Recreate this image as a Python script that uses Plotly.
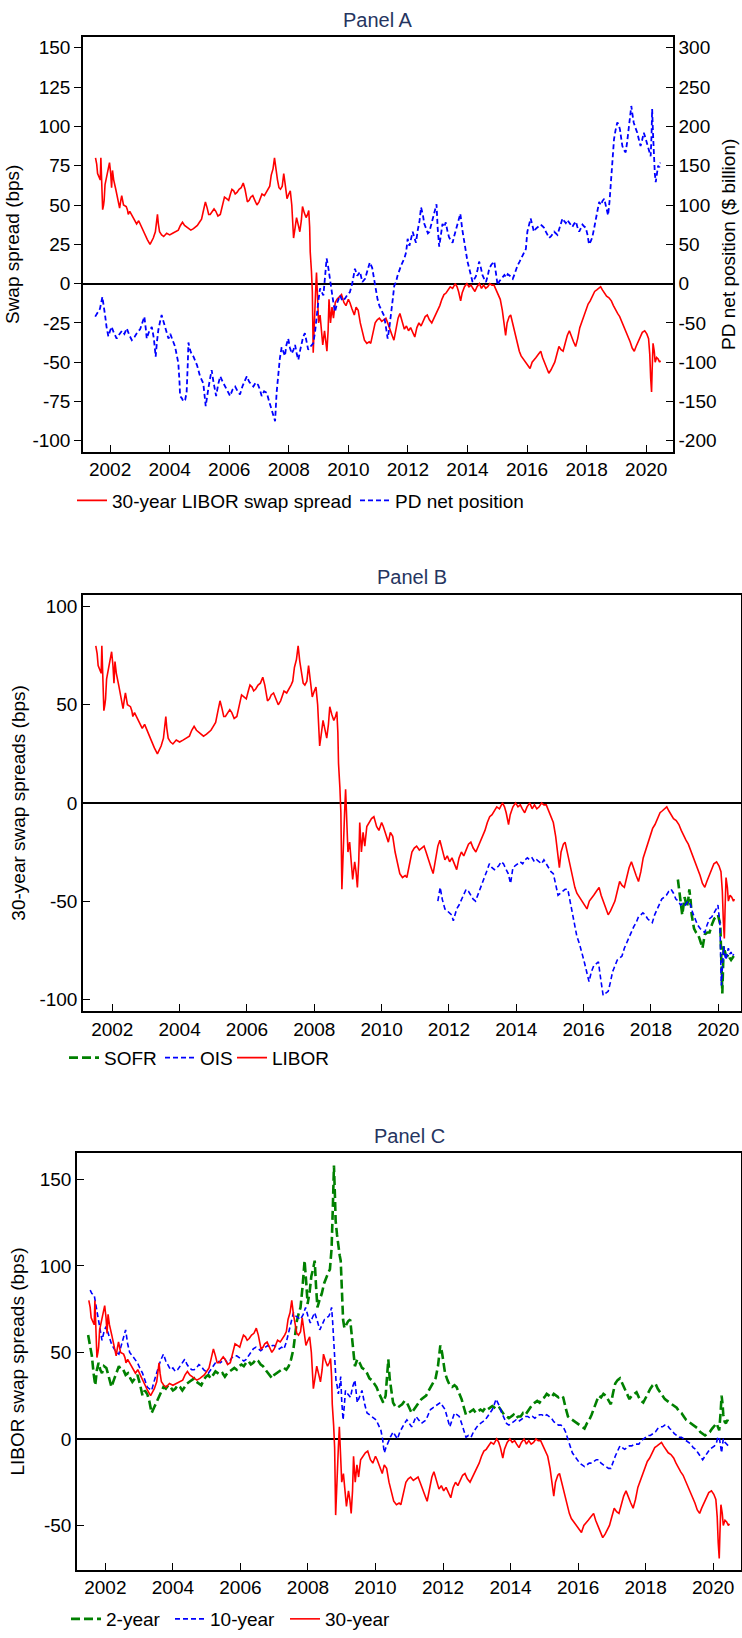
import plotly.graph_objects as go

# ---------------- data ----------------
# 30-year LIBOR swap spread (bps)
libor30_t = [2001.51,2001.55,2001.58,2001.62,2001.67,2001.69,2001.72,2001.75,2001.78,2001.8,2001.83,2001.88,2001.93,2001.98,
 2002.02,2002.05,2002.08,2002.12,2002.19,2002.25,2002.29,2002.32,2002.36,2002.39,2002.45,2002.54,2002.58,2002.61,2002.66,2002.75,
 2002.82,2002.89,2002.96,2003.03,2003.1,2003.17,2003.25,2003.34,2003.4,2003.45,2003.52,2003.59,2003.62,2003.66,2003.73,2003.8,
 2003.9,2004.0,2004.1,2004.2,2004.29,2004.36,2004.43,2004.5,2004.57,2004.64,2004.71,2004.8,2004.87,2004.93,2005.0,2005.07,
 2005.14,2005.2,2005.26,2005.31,2005.36,2005.42,2005.49,2005.55,2005.62,2005.7,2005.77,2005.84,2005.91,2005.98,2006.04,2006.09,
 2006.15,2006.2,2006.26,2006.33,2006.4,2006.47,2006.53,2006.57,2006.61,2006.67,2006.72,2006.79,2006.86,2006.93,2007.0,2007.05,
 2007.1,2007.18,2007.25,2007.31,2007.36,2007.41,2007.47,2007.52,2007.57,2007.62,2007.67,2007.72,2007.78,2007.83,2007.88,2007.94,
 2008.0,2008.05,2008.1,2008.13,2008.16,2008.2,2008.26,2008.31,2008.37,2008.42,2008.46,2008.52,2008.58,2008.63,2008.67,2008.7,
 2008.72,2008.76,2008.79,2008.82,2008.86,2008.9,2008.93,2008.97,2009.0,2009.05,2009.1,2009.14,2009.2,2009.24,2009.28,2009.32,
 2009.35,2009.4,2009.45,2009.5,2009.56,2009.62,2009.7,2009.77,2009.85,2009.92,2010.0,2010.05,2010.12,2010.2,2010.26,2010.33,
 2010.4,2010.47,2010.54,2010.62,2010.7,2010.75,2010.82,2010.9,2010.97,2011.04,2011.12,2011.2,2011.26,2011.32,2011.4,2011.47,
 2011.53,2011.6,2011.67,2011.73,2011.8,2011.88,2011.95,2012.02,2012.09,2012.16,2012.23,2012.3,2012.37,2012.44,2012.51,2012.58,
 2012.65,2012.72,2012.8,2012.87,2012.94,2013.0,2013.07,2013.14,2013.21,2013.28,2013.35,2013.42,2013.5,2013.55,2013.59,2013.65,
 2013.7,2013.77,2013.82,2013.9,2013.98,2014.05,2014.12,2014.18,2014.25,2014.32,2014.4,2014.47,2014.54,2014.61,2014.68,2014.75,
 2014.82,2014.89,2014.96,2015.03,2015.1,2015.17,2015.24,2015.28,2015.33,2015.4,2015.45,2015.5,2015.55,2015.6,2015.67,2015.74,
 2015.8,2015.88,2015.95,2016.02,2016.1,2016.17,2016.24,2016.3,2016.38,2016.46,2016.52,2016.58,2016.65,2016.73,2016.8,2016.87,
 2016.93,2017.0,2017.07,2017.14,2017.21,2017.28,2017.35,2017.42,2017.49,2017.56,2017.63,2017.7,2017.77,2017.84,2017.91,2017.98,
 2018.05,2018.12,2018.2,2018.27,2018.34,2018.41,2018.47,2018.53,2018.6,2018.67,2018.75,2018.83,2018.9,2018.97,2019.04,2019.11,
 2019.18,2019.25,2019.32,2019.39,2019.46,2019.53,2019.6,2019.66,2019.73,2019.8,2019.87,2019.95,2020.02,2020.08,2020.12,2020.15,
 2020.18,2020.2,2020.23,2020.27,2020.3,2020.35,2020.4,2020.45,2020.48]
libor30_v = [80,76,70,68,66,80,62,47,50,53,63,68,72,77,
 70,61,72,66,60,55,51,48,53,56,50,49,47,44,46,43,
 41,38,40,37,34,31,28,25,27,29,33,44,38,33,31,30,
 32,31,32,33,34,37,39,37,36,35,34,35,36,37,39,41,
 47,52,48,44,44,46,47.5,46,43,44,50,55,54,53,57,60,
 59,57,58,60,61,64,60,55,52,53,55,56,53,50,52,55,
 57,56,58,60,62,69,73,80,72,66,61,60,62,70,63,54,
 57,59,50,41,29,34,42,38,33,40,49,45,42,44,46.5,36,
 20,8,-5,-44,-20,-5,7,-10,-25,-20,-32,-39,-30,-35,-43,-30,
 -10,-25,-15,-22,-12,-10,-8,-7,-12,-14,-10,-12,-16,-20,-15,-17,
 -25,-30,-36,-38,-37,-38,-32,-25,-23,-22,-24,-23,-22,-25,-30,-33,
 -36,-28,-22,-19,-24,-29,-27,-30,-28,-31,-34,-28,-25,-27,-24,-21,
 -20,-23,-25,-22,-20,-17,-14,-10,-7,-6,-4,-2,-3,-1,0,-2,
 -5,-11,-6,-2,0,-2,-1,-3,-5,-2,0,-3,-1,-3,-2,0,
 -1,-1,-4,-6,-10,-17,-27,-33,-25,-21,-20,-24,-28,-33,-38,-43,
 -46,-48,-50,-52,-54,-50,-48,-47,-45,-43,-47,-50,-53,-57,-55,-52,
 -50,-45,-40,-42,-43,-38,-33,-30,-34,-37,-40,-35,-28,-24,-20,-16,
 -13,-11,-8,-5,-4,-3,-2,-4,-6,-8,-9,-11,-14,-17,-19,-21,
 -24,-27,-30,-34,-37,-41,-43,-40,-37,-33,-31,-30,-32,-35,-45,-60,
 -69,-55,-38,-43,-50,-47,-48,-50,-49]

# Primary dealers' net position ($ billion)
pd_t = [2001.5,2001.58,2001.66,2001.74,2001.78,2001.83,2001.88,2001.94,2002.0,2002.05,2002.12,2002.22,2002.3,2002.4,2002.48,
 2002.56,2002.65,2002.73,2002.82,2002.9,2003.01,2003.08,2003.15,2003.2,2003.23,2003.3,2003.4,2003.47,2003.53,2003.57,2003.62,
 2003.68,2003.73,2003.79,2003.85,2003.9,2003.96,2004.02,2004.07,2004.12,2004.18,2004.24,2004.29,2004.33,2004.35,2004.41,2004.46,
 2004.52,2004.57,2004.61,2004.63,2004.68,2004.74,2004.8,2004.85,2004.92,2005.02,2005.08,2005.13,2005.21,2005.26,2005.3,2005.36,
 2005.41,2005.47,2005.56,2005.63,2005.7,2005.78,2005.86,2005.94,2006.03,2006.11,2006.2,2006.28,2006.36,2006.45,2006.52,2006.59,
 2006.67,2006.74,2006.81,2006.89,2006.97,2007.03,2007.09,2007.17,2007.26,2007.34,2007.43,2007.49,2007.54,2007.59,2007.65,2007.7,
 2007.76,2007.82,2007.87,2007.92,2007.98,2008.04,2008.1,2008.16,2008.21,2008.27,2008.32,2008.38,2008.43,2008.48,2008.54,2008.6,
 2008.65,2008.73,2008.82,2008.88,2008.93,2009.0,2009.05,2009.1,2009.16,2009.22,2009.27,2009.32,2009.36,2009.43,2009.5,2009.55,
 2009.62,2009.72,2009.8,2009.89,2009.97,2010.05,2010.13,2010.22,2010.3,2010.39,2010.47,2010.56,2010.64,2010.72,2010.8,2010.87,
 2010.93,2010.98,2011.04,2011.12,2011.2,2011.26,2011.32,2011.38,2011.43,2011.49,2011.54,2011.6,2011.65,2011.71,2011.77,2011.83,
 2011.88,2011.94,2011.99,2012.05,2012.1,2012.16,2012.22,2012.27,2012.33,2012.39,2012.44,2012.5,2012.55,2012.62,2012.67,2012.72,
 2012.78,2012.83,2012.9,2012.96,2013.0,2013.05,2013.1,2013.16,2013.22,2013.27,2013.33,2013.38,2013.44,2013.5,2013.55,2013.61,
 2013.68,2013.76,2013.82,2013.89,2013.95,2014.0,2014.06,2014.12,2014.17,2014.22,2014.28,2014.34,2014.39,2014.45,2014.5,2014.56,
 2014.62,2014.68,2014.73,2014.8,2014.86,2014.9,2014.96,2015.01,2015.07,2015.13,2015.18,2015.24,2015.3,2015.35,2015.42,2015.47,
 2015.52,2015.58,2015.63,2015.68,2015.75,2015.8,2015.85,2015.91,2015.96,2016.01,2016.07,2016.12,2016.18,2016.23,2016.3,2016.38,
 2016.46,2016.52,2016.57,2016.63,2016.69,2016.74,2016.8,2016.86,2016.91,2017.02,2017.08,2017.13,2017.19,2017.24,2017.3,2017.35,
 2017.41,2017.46,2017.52,2017.58,2017.64,2017.69,2017.75,2017.8,2017.86,2017.91,2017.97,2018.03,2018.08,2018.14,2018.19,2018.25,
 2018.31,2018.36,2018.42,2018.48,2018.53,2018.59,2018.65,2018.72,2018.77,2018.81,2018.86,2018.92,2018.97,2019.03,2019.08,2019.12,
 2019.16,2019.2,2019.25,2019.31,2019.36,2019.42,2019.46,2019.5,2019.54,2019.58,2019.64,2019.7,2019.75,2019.81,2019.86,2019.92,
 2019.97,2020.03,2020.09,2020.15,2020.18,2020.2,2020.23,2020.26,2020.29,2020.32,2020.36,2020.4,2020.44,2020.47]
pd_v = [-42,-36,-32,-17,-25,-40,-55,-67,-60,-55,-62,-70,-65,-60,-64,
 -57,-66,-72,-68,-63,-58,-50,-42,-58,-70,-62,-55,-70,-93,-75,-59,
 -48,-40,-48,-57,-62,-70,-64,-68,-74,-80,-92,-101,-125,-143,-146,-150,
 -148,-138,-100,-75,-84,-90,-93,-97,-104,-118,-122,-127,-156,-140,-133,-120,
 -110,-125,-143,-128,-118,-125,-131,-136,-143,-135,-131,-137,-141,-130,-124,-118,
 -125,-128,-131,-126,-129,-135,-143,-137,-139,-150,-160,-168,-175,-139,-108,-95,
 -81,-88,-92,-78,-70,-82,-89,-84,-78,-90,-97,-85,-76,-68,-63,-75,
 -84,-80,-76,-62,-42,-20,-6,-10,-15,10,32,22,10,-11,-25,-36,
 -25,-15,-22,-19,-14,-11,0,19,10,15,2,6,18,27,20,5,
 -11,-20,-28,-35,-41,-55,-70,-55,-41,-20,-3,2,10,18,23,28,
 32,40,57,48,55,66,58,52,68,80,97,88,76,70,64,66,
 75,83,92,101,70,47,60,76,72,78,66,59,55,52,60,68,
 78,89,70,54,38,28,19,10,2,5,9,18,28,20,11,6,
 2,10,19,24,26,28,12,-2,3,6,9,11,8,12,10,8,
 6,12,18,23,28,32,36,40,44,66,75,83,74,66,70,72,
 75,73,71,66,62,58,60,63,66,62,70,78,83,80,77,81,
 78,75,72,76,79,72,66,70,75,73,71,62,50,54,59,70,
 83,95,104,100,105,108,98,87,105,124,150,184,195,205,202,196,
 185,175,170,167,180,200,212,226,215,205,198,192,184,175,182,192,
 186,179,170,162,190,222,190,158,140,129,140,150,148,154]

# 30-year SOFR swap spread (bps)
sofr30_t = [2018.8,2018.83,2018.86,2018.9,2018.93,2018.97,2019.0,2019.04,2019.07,2019.11,2019.14,2019.18,2019.21,2019.25,
 2019.28,2019.34,2019.4,2019.46,2019.53,2019.57,2019.6,2019.67,2019.74,2019.81,2019.88,2019.94,2019.99,2020.06,2020.09,
 2020.12,2020.16,2020.2,2020.23,2020.27,2020.3,2020.34,2020.38,2020.42,2020.46]
sofr30_v = [-39,-44,-49,-54,-57,-52,-48,-51,-53,-49,-44,-50,-57,-61,
 -64,-66,-67,-70,-74,-70,-67,-66,-66,-62,-59,-58,-57,-62,-80,
 -97,-73,-76,-78,-78,-77,-79,-80,-79,-78]

# 30-year OIS swap spread (bps)
ois30_t = [2011.67,2011.7,2011.74,2011.8,2011.88,2011.95,2012.02,2012.08,2012.13,2012.18,2012.23,2012.3,2012.37,2012.44,2012.51,
 2012.58,2012.65,2012.72,2012.79,2012.86,2012.93,2013.0,2013.07,2013.14,2013.2,2013.28,2013.35,2013.42,2013.48,2013.55,2013.62,
 2013.7,2013.76,2013.83,2013.9,2013.97,2014.04,2014.12,2014.19,2014.26,2014.33,2014.4,2014.47,2014.54,2014.61,2014.68,2014.75,
 2014.82,2014.89,2014.96,2015.03,2015.1,2015.17,2015.24,2015.31,2015.38,2015.45,2015.53,2015.6,2015.67,2015.74,2015.8,2015.88,
 2015.95,2016.02,2016.09,2016.16,2016.23,2016.3,2016.37,2016.44,2016.51,2016.58,2016.65,2016.73,2016.8,2016.86,2016.93,2017.0,
 2017.07,2017.14,2017.21,2017.28,2017.35,2017.42,2017.49,2017.56,2017.63,2017.7,2017.76,2017.83,2017.9,2017.97,2018.04,2018.11,
 2018.18,2018.25,2018.32,2018.39,2018.46,2018.53,2018.6,2018.67,2018.74,2018.81,2018.88,2018.95,2019.02,2019.1,2019.18,2019.24,
 2019.3,2019.38,2019.46,2019.53,2019.6,2019.67,2019.74,2019.81,2019.88,2019.94,2019.99,2020.05,2020.09,2020.12,2020.16,2020.2,
 2020.23,2020.27,2020.3,2020.34,2020.38,2020.42,2020.46]
ois30_v = [-50,-46,-43,-49,-54,-55,-56,-57,-60,-57,-54,-52,-49,-46,-44,
 -45,-47,-49,-50,-47,-44,-41,-38,-34,-31,-33,-34,-33,-32,-30,-31,
 -34,-36,-41,-33,-32,-31,-30,-31,-29,-28,-29,-28,-30,-29,-30,-31,
 -29,-31,-33,-35,-36,-41,-47,-46,-45,-44,-44,-50,-56,-62,-68,-72,
 -76,-81,-86,-91,-86,-83,-82,-81,-90,-98,-97,-96,-91,-86,-83,-80,
 -79,-78,-74,-71,-68,-66,-63,-61,-58,-57,-56,-57,-59,-60,-61,-57,
 -54,-51,-49,-48,-47,-45,-44,-46,-49,-50,-52,-51,-52,-50,-52,-56,
 -59,-62,-64,-65,-66,-62,-59,-58,-56,-54,-52,-62,-93,-85,-73,-78,
 -80,-76,-74,-77,-76,-78,-77]

# 2-year LIBOR swap spread (bps)
libor2_t = [2001.49,2001.55,2001.6,2001.65,2001.7,2001.75,2001.8,2001.85,2001.9,2001.96,2002.03,2002.1,2002.18,2002.25,2002.32,
 2002.4,2002.46,2002.53,2002.6,2002.67,2002.74,2002.8,2002.88,2002.95,2003.02,2003.1,2003.17,2003.24,2003.3,2003.37,2003.44,
 2003.51,2003.58,2003.65,2003.72,2003.79,2003.86,2003.93,2004.0,2004.07,2004.14,2004.21,2004.28,2004.35,2004.42,2004.49,2004.56,
 2004.63,2004.7,2004.77,2004.84,2004.91,2004.98,2005.05,2005.12,2005.19,2005.26,2005.33,2005.4,2005.47,2005.54,2005.61,2005.68,
 2005.75,2005.82,2005.89,2005.96,2006.03,2006.1,2006.17,2006.24,2006.31,2006.38,2006.46,2006.53,2006.6,2006.67,2006.74,2006.81,
 2006.88,2006.94,2007.0,2007.08,2007.15,2007.22,2007.29,2007.36,2007.43,2007.5,2007.57,2007.62,2007.67,2007.72,2007.78,2007.84,
 2007.9,2007.95,2007.99,2008.05,2008.1,2008.15,2008.2,2008.24,2008.28,2008.34,2008.41,2008.48,2008.55,2008.6,2008.65,2008.7,
 2008.74,2008.77,2008.8,2008.82,2008.86,2008.9,2008.94,2008.97,2009.0,2009.04,2009.08,2009.13,2009.19,2009.25,2009.32,2009.39,
 2009.46,2009.53,2009.6,2009.68,2009.75,2009.82,2009.89,2009.96,2010.03,2010.09,2010.16,2010.23,2010.3,2010.35,2010.38,2010.42,
 2010.47,2010.52,2010.58,2010.65,2010.72,2010.79,2010.86,2010.93,2011.0,2011.07,2011.14,2011.2,2011.28,2011.36,2011.43,2011.5,
 2011.58,2011.66,2011.72,2011.78,2011.85,2011.92,2011.97,2012.02,2012.06,2012.13,2012.2,2012.27,2012.34,2012.4,2012.48,2012.55,
 2012.62,2012.68,2012.75,2012.83,2012.9,2012.97,2013.04,2013.11,2013.18,2013.25,2013.32,2013.39,2013.46,2013.53,2013.6,2013.67,
 2013.74,2013.81,2013.88,2013.95,2014.02,2014.09,2014.16,2014.23,2014.3,2014.37,2014.44,2014.51,2014.58,2014.65,2014.72,2014.79,
 2014.86,2014.93,2015.0,2015.07,2015.14,2015.21,2015.28,2015.35,2015.42,2015.49,2015.56,2015.63,2015.7,2015.76,2015.83,2015.9,
 2015.98,2016.05,2016.12,2016.19,2016.26,2016.33,2016.4,2016.47,2016.54,2016.61,2016.68,2016.75,2016.82,2016.9,2016.97,2017.04,
 2017.1,2017.17,2017.24,2017.31,2017.38,2017.45,2017.52,2017.59,2017.66,2017.73,2017.8,2017.86,2017.93,2018.0,2018.07,2018.14,
 2018.21,2018.29,2018.36,2018.43,2018.5,2018.57,2018.64,2018.71,2018.78,2018.85,2018.92,2018.99,2019.06,2019.13,2019.2,2019.27,
 2019.34,2019.41,2019.48,2019.55,2019.62,2019.69,2019.76,2019.83,2019.9,2019.97,2020.04,2020.1,2020.14,2020.18,2020.22,2020.25,
 2020.28,2020.3,2020.34,2020.38,2020.42,2020.46]
libor2_v = [60,52,48,38,31,40,44,40,38,42,41,36,30,34,38,
 42,40,40,37,38,35,33,35,37,32,25,28,26,22,15,18,
 21,24,27,30,29,31,30,28,29,31,30,28,30,32,33,34,
 35,33,32,31,34,36,37,35,37,39,38,37,38,36,38,39,
 40,41,40,42,43,42,44,45,43,44,46,45,43,42,40,38,
 36,35,37,38,39,40,41,40,42,46,52,60,68,72,76,88,
 103,90,78,85,94,98,103,88,76,80,84,90,94,96,98,110,
 136,158,140,126,118,111,106,103,85,69,64,66,68,69,57,42,
 46,44,41,40,38,35,34,32,30,27,24,21,25,40,46,35,
 26,21,19,18,19,20,22,21,18,15,17,19,21,23,24,25,
 28,31,33,35,42,54,50,44,38,34,31,30,31,30,26,23,
 18,14,15,16,17,15,16,17,16,18,17,18,19,18,17,18,
 16,14,13,12,13,14,12,13,13,15,14,16,18,20,21,22,
 21,23,24,26,25,24,26,25,24,25,24,18,13,12,11,10,
 9,8,7,6,9,11,14,18,22,25,24,26,25,22,20,27,
 32,34,35,32,29,26,23,25,26,27,24,22,21,24,27,29,
 31,32,29,27,25,23,22,21,20,19,18,16,15,13,11,10,
 9,8,7,6,4,3,2,3,4,6,8,9,7,5,15,25,
 20,14,10,9,11,9]

# 10-year LIBOR swap spread (bps)
libor10_t = [2001.55,2001.6,2001.67,2001.72,2001.76,2001.82,2001.9,2001.96,2002.02,2002.1,2002.18,2002.26,2002.33,2002.4,2002.48,
 2002.55,2002.6,2002.66,2002.72,2002.8,2002.88,2002.95,2003.02,2003.1,2003.17,2003.24,2003.3,2003.37,2003.44,2003.51,2003.58,
 2003.65,2003.72,2003.79,2003.86,2003.93,2004.0,2004.07,2004.14,2004.21,2004.28,2004.35,2004.42,2004.49,2004.56,2004.63,2004.7,
 2004.77,2004.84,2004.91,2004.98,2005.05,2005.12,2005.19,2005.26,2005.33,2005.4,2005.47,2005.54,2005.61,2005.68,2005.75,2005.82,
 2005.89,2005.96,2006.03,2006.1,2006.17,2006.24,2006.31,2006.38,2006.46,2006.53,2006.6,2006.67,2006.74,2006.81,2006.88,2006.95,
 2007.0,2007.08,2007.15,2007.22,2007.29,2007.36,2007.43,2007.5,2007.57,2007.64,2007.71,2007.78,2007.86,2007.93,2008.0,2008.07,
 2008.13,2008.2,2008.28,2008.35,2008.42,2008.49,2008.56,2008.62,2008.66,2008.7,2008.73,2008.76,2008.8,2008.83,2008.87,2008.9,
 2008.94,2008.97,2009.0,2009.04,2009.08,2009.11,2009.18,2009.26,2009.32,2009.39,2009.46,2009.53,2009.6,2009.68,2009.75,2009.82,
 2009.88,2009.95,2010.02,2010.09,2010.16,2010.21,2010.26,2010.31,2010.37,2010.44,2010.52,2010.58,2010.65,2010.72,2010.79,2010.86,
 2010.93,2011.0,2011.07,2011.14,2011.2,2011.28,2011.36,2011.43,2011.5,2011.56,2011.63,2011.7,2011.78,2011.85,2011.92,2011.99,
 2012.06,2012.13,2012.2,2012.27,2012.34,2012.41,2012.48,2012.55,2012.61,2012.68,2012.75,2012.83,2012.9,2012.97,2013.04,2013.11,
 2013.18,2013.25,2013.32,2013.39,2013.46,2013.52,2013.57,2013.62,2013.67,2013.74,2013.81,2013.88,2013.95,2014.02,2014.09,2014.16,
 2014.23,2014.3,2014.37,2014.44,2014.51,2014.58,2014.65,2014.72,2014.79,2014.86,2014.93,2015.0,2015.07,2015.14,2015.21,2015.28,
 2015.35,2015.42,2015.49,2015.56,2015.63,2015.7,2015.76,2015.83,2015.9,2015.98,2016.05,2016.12,2016.19,2016.26,2016.33,2016.4,
 2016.47,2016.54,2016.61,2016.68,2016.75,2016.82,2016.9,2016.97,2017.04,2017.1,2017.17,2017.24,2017.31,2017.38,2017.45,2017.52,
 2017.59,2017.66,2017.73,2017.8,2017.87,2017.94,2018.0,2018.07,2018.14,2018.21,2018.29,2018.36,2018.43,2018.5,2018.57,2018.64,
 2018.71,2018.78,2018.85,2018.92,2018.99,2019.06,2019.13,2019.2,2019.27,2019.34,2019.41,2019.48,2019.55,2019.62,2019.69,2019.76,
 2019.83,2019.9,2019.97,2020.04,2020.1,2020.14,2020.18,2020.22,2020.25,2020.28,2020.3,2020.35,2020.4,2020.45]
libor10_v = [86,84,83,78,73,66,57,62,65,60,55,52,50,49,55,
 60,63,55,50,48,46,44,41,38,34,30,29,28,33,38,42,
 46,49,45,42,40,41,39,40,42,44,46,43,41,40,40,41,
 43,42,40,39,38,40,42,44,45,44,45,46,44,45,47,48,
 48,47,46,45,46,48,50,52,53,52,51,52,53,54,53,54,
 54,53,52,53,52,56,62,68,73,71,70,69,72,76,71,67,
 70,73,68,63,66,69,70,71,73,76,68,57,45,34,30,26,
 31,36,22,11,20,28,26,24,30,34,21,25,28,20,15,14,
 13,12,11,8,5,0,-8,-5,-2,1,4,2,0,4,7,9,
 11,9,7,10,13,11,9,10,11,14,17,18,19,20,21,19,
 17,12,7,11,15,14,13,9,5,1,2,1,4,6,8,9,
 10,11,13,15,17,20,23,21,19,15,12,9,8,9,10,11,
 10,11,12,13,13,12,13,12,13,14,14,13,14,13,12,10,
 9,8,8,7,4,0,-4,-8,-10,-12,-14,-15,-16,-15,-14,-14,
 -13,-12,-12,-14,-15,-16,-17,-17,-13,-10,-7,-4,-5,-6,-5,-4,
 -4,-3,-3,-3,-1,0,1,2,2,3,4,6,7,7,8,8,
 6,5,3,2,1,1,0,-1,-2,-3,-5,-6,-8,-10,-12,-10,
 -8,-6,-5,-4,-2,1,1,-6,-8,-3,0,-2,-3,-4]

# axis ticks
year_ticks = [2002, 2004, 2006, 2008, 2010, 2012, 2014, 2016, 2018, 2020]
a_left_ticks = [-100, -75, -50, -25, 0, 25, 50, 75, 100, 125, 150]
a_right_ticks = [-200, -150, -100, -50, 0, 50, 100, 150, 200, 250, 300]
b_ticks = [-100, -50, 0, 50, 100]
c_ticks = [-50, 0, 50, 100, 150]

# ---------------- figure ----------------
W, H = 742, 1638
FONT = "Liberation Sans, Arial, sans-serif"
RED = "#FF0000"
BLUE = "#0000FF"
GREEN = "#008000"
NAVY = "#26355F"

def fx(px):
    return px / W

def fy(py):
    return 1 - py / H

def lab(v):
    return [str(t) for t in v]

fig = go.Figure()

# Panel A
fig.add_trace(go.Scatter(x=libor30_t, y=libor30_v, mode="lines", name="30-year LIBOR swap spread",
                         line=dict(color=RED, width=1.6), xaxis="x", yaxis="y", legend="legend", legendwidth=238))
fig.add_trace(go.Scatter(x=pd_t, y=pd_v, mode="lines", name="PD net position",
                         line=dict(color=BLUE, width=1.8, dash="5px,3px"), xaxis="x", yaxis="y2", legend="legend"))
# Panel B
fig.add_trace(go.Scatter(x=sofr30_t, y=sofr30_v, mode="lines", name="SOFR",
                         line=dict(color=GREEN, width=2.6, dash="9px,4px"), xaxis="x2", yaxis="y3", legend="legend2",
                         legendwidth=51))
fig.add_trace(go.Scatter(x=ois30_t, y=ois30_v, mode="lines", name="OIS",
                         line=dict(color=BLUE, width=1.6, dash="5px,3px"), xaxis="x2", yaxis="y3", legend="legend2",
                         legendwidth=27))
fig.add_trace(go.Scatter(x=libor30_t, y=libor30_v, mode="lines", name="LIBOR",
                         line=dict(color=RED, width=1.6), xaxis="x2", yaxis="y3", legend="legend2"))
# Panel C
fig.add_trace(go.Scatter(x=libor2_t, y=libor2_v, mode="lines", name="2-year",
                         line=dict(color=GREEN, width=2.6, dash="9px,4px"), xaxis="x3", yaxis="y4", legend="legend3",
                         legendwidth=59))
fig.add_trace(go.Scatter(x=libor10_t, y=libor10_v, mode="lines", name="10-year",
                         line=dict(color=BLUE, width=1.6, dash="5px,3px"), xaxis="x3", yaxis="y4", legend="legend3",
                         legendwidth=70))
fig.add_trace(go.Scatter(x=libor30_t, y=libor30_v, mode="lines", name="30-year",
                         line=dict(color=RED, width=1.6), xaxis="x3", yaxis="y4", legend="legend3"))

axis_common = dict(showgrid=False, showline=True, linecolor="black", linewidth=1.5, mirror=True,
                   tickcolor="black", tickwidth=1.3, ticklen=7, tickfont=dict(family=FONT, size=19, color="black"))

def xax(domain, anchor, rng):
    return dict(axis_common, domain=domain, anchor=anchor, range=rng, tickmode="array",
                tickvals=year_ticks, ticktext=lab(year_ticks), ticks="inside", zeroline=False)

def yax(domain, anchor, rng, ticks, title, ticksdir, standoff):
    return dict(axis_common, domain=domain, anchor=anchor, range=rng, tickmode="array",
                tickvals=ticks, ticktext=lab(ticks), ticks=ticksdir,
                zeroline=True, zerolinecolor="black", zerolinewidth=1.6,
                title=dict(text=title, font=dict(family=FONT, size=19, color="black"), standoff=standoff))

dA_x = [fx(83), fx(673)]
dA_y = [fy(454), fy(37)]
dB_x = [fx(83), fx(740.5)]
dB_y = [fy(1016), fy(597.7)]
dC_x = [fx(77), fx(740.5)]
dC_y = [fy(1577.5), fy(1159)]

legend_common = dict(orientation="h", xanchor="left", yanchor="middle", bgcolor="rgba(0,0,0,0)",
                     borderwidth=0, font=dict(family=FONT, size=19, color="black"), itemwidth=30)

fig.update_layout(
    width=W, height=H,
    margin=dict(l=0, r=0, t=0, b=0),
    paper_bgcolor="white", plot_bgcolor="white",
    font=dict(family=FONT, size=19, color="black"),
    xaxis=xax(dA_x, "y", [2001.09, 2020.9]),
    yaxis=yax(dA_y, "x", [-107, 157], a_left_ticks, "Swap spread (bps)", "outside", 8),
    yaxis2=dict(axis_common, overlaying="y", side="right", anchor="x", range=[-214, 314],
                tickmode="array", tickvals=a_right_ticks, ticktext=lab(a_right_ticks), ticks="inside",
                zeroline=False, mirror=False,
                title=dict(text="PD net position ($ billion)", font=dict(family=FONT, size=19, color="black"),
                           standoff=6)),
    xaxis2=xax(dB_x, "y3", [2001.13, 2020.66]),
    yaxis3=yax(dB_y, "x2", [-106, 106], b_ticks, "30-year swap spreads (bps)", "inside", 9),
    xaxis3=xax(dC_x, "y4", [2001.16, 2020.81]),
    yaxis4=yax(dC_y, "x3", [-75.6, 165], c_ticks, "LIBOR swap spreads (bps)", "inside", 10),
    legend=dict(legend_common, x=fx(72), y=fy(503)),
    legend2=dict(legend_common, x=fx(64), y=fy(1063)),
    legend3=dict(legend_common, x=fx(66), y=fy(1627)),
    showlegend=True,
)

titles = [("Panel A", 378, 20), ("Panel B", 412, 580), ("Panel C", 409, 1142)]
for txt, px, py in titles:
    fig.add_annotation(text=txt, x=fx(px), y=fy(py), xref="paper", yref="paper", showarrow=False,
                       xanchor="center", yanchor="middle", font=dict(family=FONT, size=20, color=NAVY))

# remove the browser's default page margin so the 742x1638 figure fills the window exactly
fig.write_html("out.html",
               config={"displayModeBar": False},
               post_script="document.body.style.margin='0px';document.body.style.padding='0px';"
                           "document.documentElement.style.overflow='hidden';")
